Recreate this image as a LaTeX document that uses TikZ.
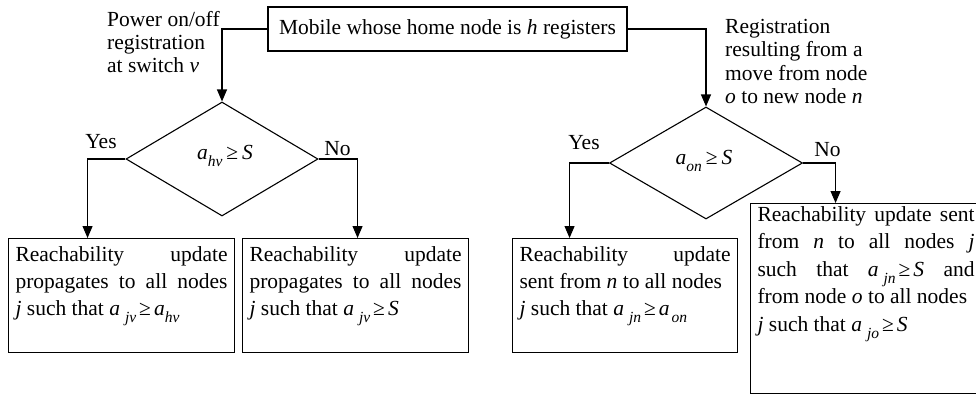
\documentclass[tikz,border=0pt]{standalone}
\usepackage{fontspec}
\setmainfont{Liberation Serif}
\usetikzlibrary{arrows.meta,shapes.geometric}
\newcommand{\mysub}[1]{\raisebox{-7pt}{\fontsize{15.5}{15.5}\selectfont\itshape #1}}
\newcommand{\jl}[2]{\makebox[#1][s]{#2}}
\tikzset{
  every node/.style={font=\fontsize{21.5}{27}\selectfont},
  arr/.style={line width=1.1pt,-{Triangle[length=12pt,width=10pt]}},
  dia/.style={diamond,draw,line width=1.1pt,inner sep=0pt},
  outbox/.style={draw,line width=1.1pt,anchor=north west,inner xsep=7pt,inner ysep=8pt},
  lbl/.style={inner sep=0pt,anchor=base}
}
\begin{document}
\begin{tikzpicture}[x=1pt,y=-1pt]
\useasboundingbox (0,0) rectangle (976,397);
\clip (0,0) rectangle (976,397);
% top box
\node[draw,line width=1.1pt,minimum width=359pt,minimum height=44pt,inner sep=0pt] (top) at (447.5,29) {Mobile whose home node is \textit{h} registers};
% diamonds
\node[dia,minimum width=192pt,minimum height=114pt] (d1) at (222,159) {};
\node[dia,minimum width=193pt,minimum height=112pt] (d2) at (706,163) {};
\node[lbl] (t1) at (225,159.5) {\textit{a}\mysub{hv}\kern4pt≥\kern4pt\textit{S}};
\node[lbl] (t2) at (704,164) {\textit{a}\mysub{on}\kern4pt≥\kern4pt\textit{S}};
% side labels
\node[inner sep=0pt,anchor=base west] (lp) at (107,26.7) {\fontsize{21.5}{23}\selectfont\parbox[t]{150pt}{Power on/off\\registration\\at switch \textit{v}}};
\node[inner sep=0pt,anchor=base west] (lr) at (725,33) {\fontsize{21.5}{23.5}\selectfont\parbox[t]{200pt}{Registration\\resulting from a\\move from node\\\textit{o} to new node \textit{n}}};
% yes/no
\node[lbl] (y1) at (101,148) {Yes};
\node[lbl] (n1) at (337.5,155.7) {No};
\node[lbl] (y2) at (584,149) {Yes};
\node[lbl] (n2) at (827.5,156) {No};
% output boxes
\node[outbox] (b1) at (8,238) {\parbox[t][98pt][t]{212pt}{%
\jl{212pt}{Reachability update}\\
\jl{212pt}{propagates to all nodes}\\
\textit{j} such that \textit{a}\kern5pt\mysub{jv}\kern3pt≥\kern3pt\textit{a}\mysub{hv}}};
\node[outbox] (b2) at (242,238) {\parbox[t][98pt][t]{212pt}{%
\jl{212pt}{Reachability update}\\
\jl{212pt}{propagates to all nodes}\\
\textit{j} such that \textit{a}\kern5pt\mysub{jv}\kern3pt≥\kern3pt\textit{S}}};
\node[outbox] (b3) at (512,238) {\parbox[t][98pt][t]{211pt}{%
\jl{211pt}{Reachability update}\\
sent from \textit{n} to all nodes\\
\textit{j} such that \textit{a}\kern5pt\mysub{jn}\kern3pt≥\kern3pt\textit{a}\kern2pt\mysub{on}}};
\node[outbox,inner ysep=3pt] (b4) at (750,203) {\fontsize{21.5}{27.5}\selectfont\parbox[t][184pt][t]{217pt}{%
\jl{217pt}{Reachability update sent}\\
\jl{217pt}{from \textit{n} to all nodes \textit{j}}\\
\jl{217pt}{such that \textit{a}\kern5pt\mysub{jn}\kern3pt≥\kern3pt\textit{S} and}\\
from node \textit{o} to all nodes\\
\textit{j} such that \textit{a}\kern5pt\mysub{jo}\kern3pt≥\kern3pt\textit{S}}};
% connectors
\draw[arr] (top.west) -| (d1.north);
\draw[arr] (top.east) -| (d2.north);
\draw[arr] (d1.west) -| ([xshift=-34pt]b1.north);
\draw[arr] (d1.east) -| ([xshift=2pt]b2.north);
\draw[arr] (d2.west) -| ([xshift=-55.5pt]b3.north);
\draw[arr] (d2.east) -| ([xshift=-30.5pt]b4.north);
\end{tikzpicture}
\end{document}
